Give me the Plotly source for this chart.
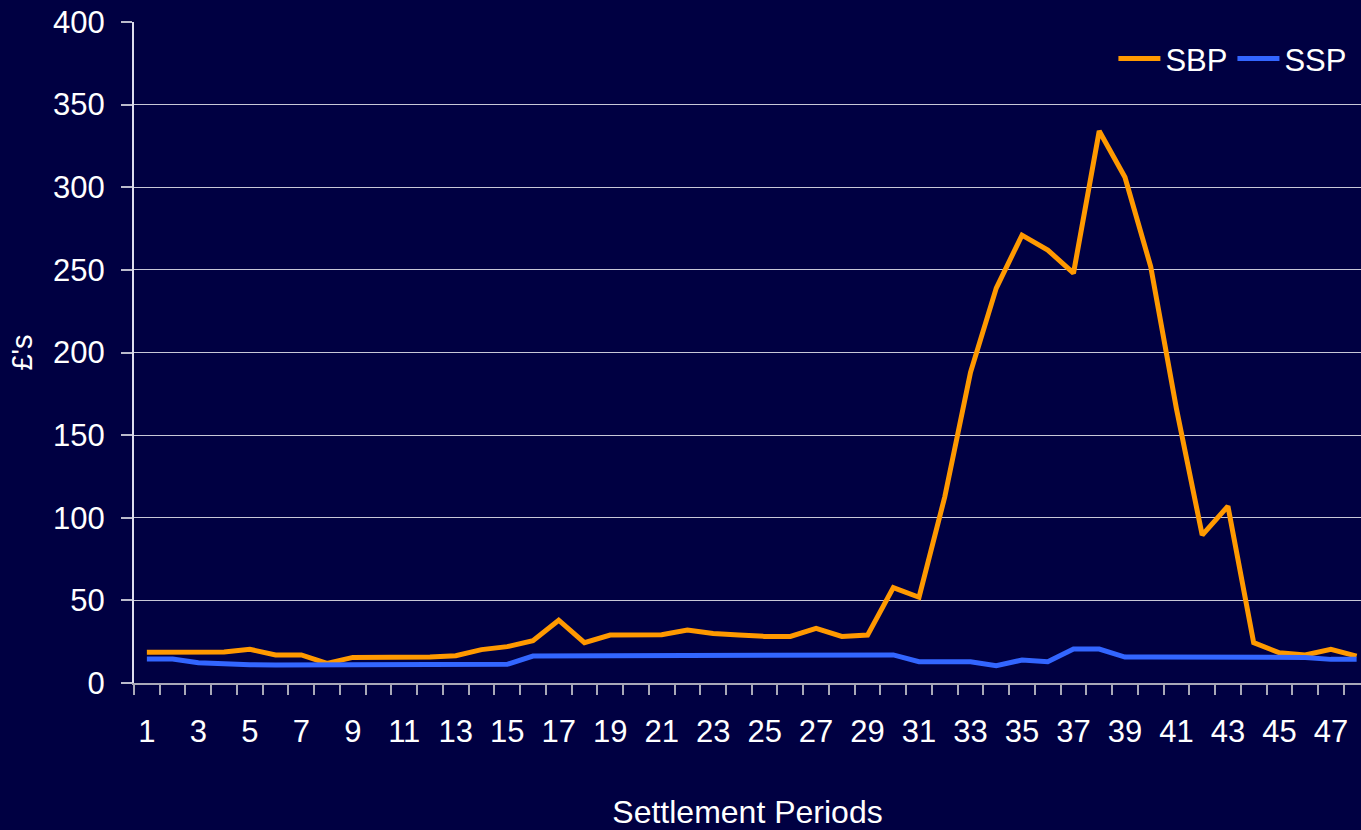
import plotly.graph_objects as go

periods = list(range(1, 49))
sbp = [18.6, 18.5, 18.8, 18.8, 20.4, 17, 17, 11.9, 15.5, 15.5, 15.7, 15.7,
       16.5, 20.2, 22, 25.6, 38, 24.4, 29, 29.2, 29.2, 32, 30, 29,
       28.2, 28.2, 33, 28.2, 29, 57.7, 51.9, 112.7, 188, 239, 271, 262,
       248, 334, 306, 252, 166, 89.5, 107, 24.4, 18.3, 17, 20.4, 16.3]
ssp = [14.5, 14.5, 12.3, 11.3, 11, 10.9, 10.9, 10.9, 11, 11.3, 11.3, 11.3,
       11.3, 11, 11.3, 16.3, 16.3, 16.3, 16.3, 16.5, 16.5, 16.5, 17, 16.8,
       17, 16.5, 16.7, 16.7, 17, 17, 12.9, 12.9, 12.9, 10.5, 13.9, 12.9,
       20.5, 20.5, 15.7, 15.7, 15.7, 15.7, 15.7, 15.7, 15.7, 15.5, 14.3, 14.3]
x_labels = [str(p) for p in periods if p % 2 == 1]
y_ticks = [0, 50, 100, 150, 200, 250, 300, 350, 400]

bg = "#000042"
font = "Liberation Sans, Arial, sans-serif"

fig = go.Figure()
fig.add_trace(go.Scatter(x=periods, y=sbp, mode="lines", name="SBP",
                         line=dict(color="#FF9900", width=5)))
fig.add_trace(go.Scatter(x=periods, y=ssp, mode="lines", name="SSP",
                         line=dict(color="#3366FF", width=5)))

fig.update_layout(
    width=1361, height=830,
    paper_bgcolor=bg, plot_bgcolor=bg,
    margin=dict(l=134, r=0, t=22, b=147),
    font=dict(family=font, color="white", size=31),
    showlegend=True,
    legend=dict(x=0.993, y=0.985, xanchor="right", yanchor="top",
                orientation="h", bgcolor="rgba(0,0,0,0)",
                font=dict(size=31, color="white"), itemwidth=42,
                tracegroupgap=0),
    xaxis=dict(
        range=[0.5, 48.17], tickmode="array",
        tickvals=[p for p in periods if p % 2 == 1], ticktext=x_labels,
        ticks="", showgrid=False, zeroline=False,
        showline=True, linecolor="#A8A8B8", linewidth=2,
        ticklabelstandoff=20,
        tickfont=dict(size=31, color="white"),
        minor=dict(tickmode="array",
                   tickvals=[p + 0.5 for p in range(0, 49)],
                   ticks="outside", ticklen=10, tickwidth=2,
                   tickcolor="#A8A8B8", showgrid=False),
        title=dict(text="Settlement Periods", font=dict(size=32, color="white"),
                   standoff=54),
    ),
    yaxis=dict(
        range=[0, 400], tickmode="array", tickvals=y_ticks,
        ticks="outside", ticklen=11, tickwidth=1.5, tickcolor="#BBBBCC",
        showgrid=True, gridcolor="#C8C8D8", gridwidth=1,
        zeroline=False, showline=True, linecolor="#DDDDEE", linewidth=2,
        ticklabelstandoff=10,
        tickfont=dict(size=31, color="white"),
        title=dict(text="£'s", font=dict(size=29, color="white"), standoff=12),
    ),
)

fig.write_html("out.html", config={"displayModeBar": False},
               post_script="document.body.style.margin='0';")
